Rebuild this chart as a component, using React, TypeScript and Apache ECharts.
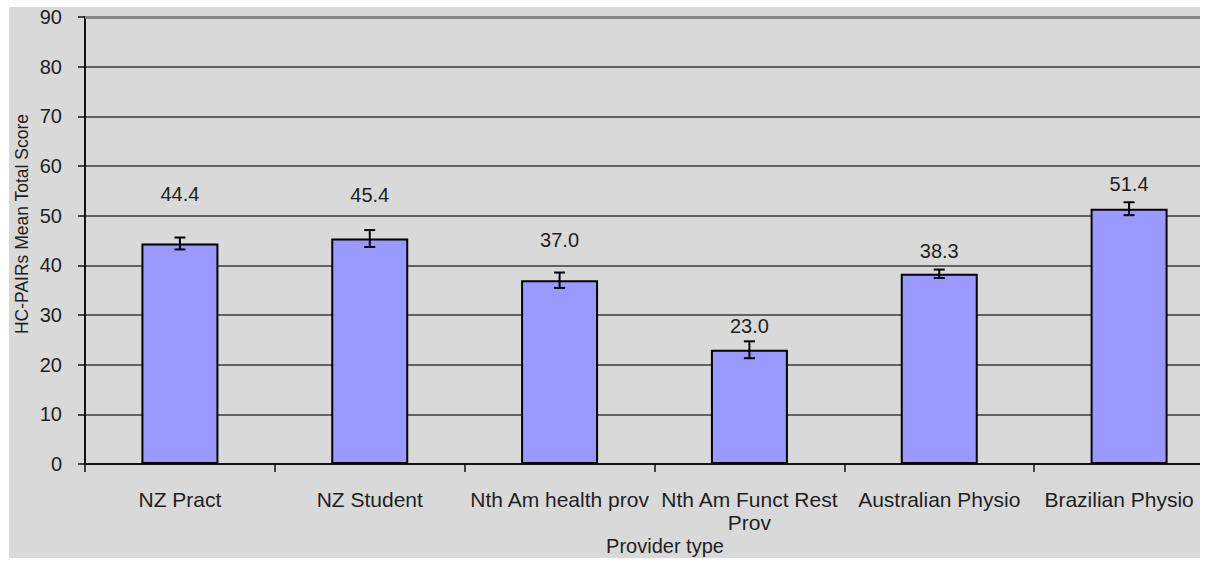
import React, { useEffect, useRef } from "react";
import * as echarts from "echarts";

const categories = [
  "NZ Pract",
  "NZ Student",
  "Nth Am health prov",
  "Nth Am Funct Rest\nProv",
  "Australian Physio",
  "Brazilian Physio",
];
const meanScores = [44.4, 45.4, 37.0, 23.0, 38.3, 51.4];
const errorHalf = [1.2, 1.7, 1.55, 1.7, 0.85, 1.3];
const yMin = 0;
const yMax = 90;
const yStep = 10;
const xAxisTitle = "Provider type";
const yAxisTitle = "HC-PAIRs Mean Total Score";

const FONT = "'Liberation Sans', Arial, sans-serif";
const TEXT = "#1f1f1f";
const labelLift = [39, 34, 30, 14, 13, 15];

export default function App() {
  const ref = useRef<HTMLDivElement>(null);

  useEffect(() => {
    if (!ref.current) return;
    const chart = echarts.init(ref.current, null, { renderer: "svg" });

    const barData = meanScores.map((v, i) => ({
      value: v,
      label: { distance: labelLift[i] },
    }));
    const errData = meanScores.map((v, i) => [i, v - errorHalf[i], v + errorHalf[i]]);
    const catData = categories.map((c, i) =>
      i === categories.length - 1
        ? { value: c, textStyle: { padding: [0, 20, 0, 0] } }
        : c
    );

    chart.setOption({
      animation: false,
      backgroundColor: "#D9D9D9",
      grid: { left: 76, right: 0, top: 8.5, bottom: 94, containLabel: false },
      xAxis: {
        type: "category",
        data: catData,
        axisLine: { show: true, lineStyle: { color: "#111", width: 2 } },
        axisTick: { show: true, length: 8, lineStyle: { color: "#111", width: 1.5 } },
        axisLabel: {
          interval: 0,
          margin: 24,
          fontSize: 21,
          lineHeight: 23,
          fontFamily: FONT,
          color: TEXT,
        },
        splitLine: { show: false },
      },
      yAxis: {
        type: "value",
        min: yMin,
        max: yMax,
        interval: yStep,
        axisLine: { show: true, lineStyle: { color: "#111", width: 2 } },
        axisTick: { show: true, length: 7, lineStyle: { color: "#111", width: 1.5 } },
        axisLabel: { margin: 23, fontSize: 20, fontFamily: FONT, color: TEXT },
        splitLine: { show: true, lineStyle: { color: "#3a3a3a", width: 1.5 } },
      },
      series: [
        {
          type: "bar",
          data: barData,
          barWidth: 77,
          itemStyle: { color: "#9999FF", borderColor: "#000", borderWidth: 2 },
          label: {
            show: true,
            position: "top",
            fontSize: 20,
            fontFamily: FONT,
            color: TEXT,
            formatter: (p: any) => Number(p.value).toFixed(1),
          },
          markLine: {
            silent: true,
            symbol: "none",
            label: { show: false },
            lineStyle: { color: "#888", width: 3, type: "solid" },
            data: [{ yAxis: yMax }],
          },
          z: 2,
        },
        {
          type: "custom",
          data: errData,
          z: 5,
          renderItem: (params: any, api: any) => {
            const x = api.value(0);
            const lo = api.coord([x, api.value(1)]);
            const hi = api.coord([x, api.value(2)]);
            const cap = 5.5;
            const style = { stroke: "#000", lineWidth: 2 };
            return {
              type: "group",
              children: [
                { type: "line", shape: { x1: lo[0], y1: lo[1], x2: hi[0], y2: hi[1] }, style },
                { type: "line", shape: { x1: lo[0] - cap, y1: lo[1], x2: lo[0] + cap, y2: lo[1] }, style },
                { type: "line", shape: { x1: hi[0] - cap, y1: hi[1], x2: hi[0] + cap, y2: hi[1] }, style },
              ],
            };
          },
        },
      ],
      graphic: [
        {
          type: "text",
          x: 13,
          y: 217,
          rotation: Math.PI / 2,
          style: {
            text: yAxisTitle,
            font: `17.5px ${FONT}`,
            fill: TEXT,
            textAlign: "center",
            textVerticalAlign: "middle",
          },
        },
        {
          type: "text",
          x: 656,
          y: 539,
          style: {
            text: xAxisTitle,
            font: `20px ${FONT}`,
            fill: TEXT,
            textAlign: "center",
            textVerticalAlign: "middle",
          },
        },
      ],
    });

    return () => chart.dispose();
  }, []);

  return (
    <div
      style={{
        position: "absolute",
        left: 9,
        top: 7,
        width: 1191,
        height: 551,
        background: "#D9D9D9",
        overflow: "hidden",
      }}
    >
      <div ref={ref} style={{ width: 1215, height: 551 }} />
    </div>
  );
}
